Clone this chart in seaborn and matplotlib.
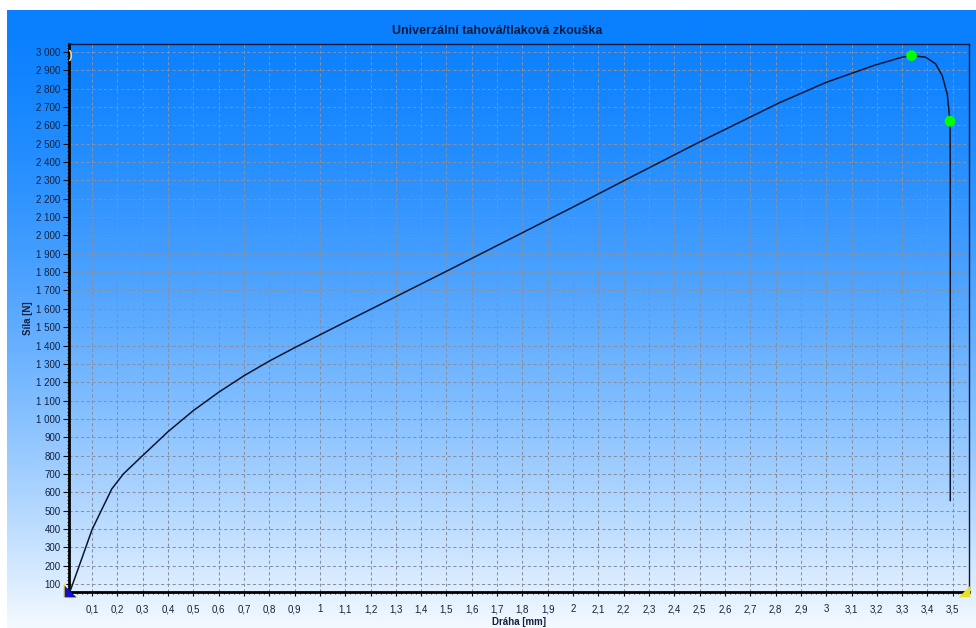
import numpy as np
import pandas as pd
import matplotlib
matplotlib.use("Agg")
import matplotlib.pyplot as plt
from matplotlib.ticker import FixedLocator, FuncFormatter, MultipleLocator
from matplotlib.colors import LinearSegmentedColormap
import seaborn as sns

# Tensile test record: travel [mm] vs. force [N]
draha_mm = [0.010, 0.019, 0.060, 0.100, 0.140, 0.178, 0.224, 0.300, 0.400,
            0.500, 0.600, 0.700, 0.800, 0.900, 1.000, 1.100, 1.200,
            1.500, 2.000, 2.200, 2.500, 2.814, 3.000, 3.195, 3.300, 3.337,
            3.393, 3.432, 3.458, 3.478, 3.489, 3.490, 3.490]
sila_n = [50, 82, 240, 396, 510, 618, 700, 800, 930,
          1045, 1145, 1235, 1315, 1388, 1458, 1528, 1597,
          1805, 2155, 2298, 2510, 2723, 2835, 2930, 2972, 2981,
          2972, 2936, 2872, 2772, 2623, 2400, 555]

# Highlighted points: maximum force and break
body_x = [3.337, 3.489]
body_y = [2981, 2623]

# Start / end cursors of the measurement
start_x = [0.012]
start_y = [62]
end_x = [3.545]
end_y = [62]
top_cursor_x = [0.014]
top_cursor_y = [2985]

x_ticks = [round(0.1 * i, 1) for i in range(1, 36)]
y_ticks = list(range(100, 3001, 100))

title = "Univerzální tahová/tlaková zkouška"
x_label = "Dráha [mm]"
y_label = "Síla [N]"

W, H = 976, 628
fig = plt.figure(figsize=(W / 100, H / 100), dpi=100)
fig.patch.set_facecolor("white")

# Vertical blue-to-white gradient behind the chart
bg = fig.add_axes([7 / W, 0, 1 - 7 / W, 1 - 10 / H])
bg.set_axis_off()
cmap = LinearSegmentedColormap.from_list(
    "bg", [(0.0, "#0a80ff"), (1.0, "#f4f9ff")])
t = np.linspace(0, 1, 512) ** 1.5
bg.imshow(t[:, None], aspect="auto", cmap=cmap, vmin=0, vmax=1,
          extent=[0, 1, 0, 1], origin="upper")
bg.set_xlim(0, 1)
bg.set_ylim(0, 1)

ax = fig.add_axes([69 / W, (H - 592) / H, (969 - 69) / W, (592 - 44) / H])
ax.set_facecolor("none")

df = pd.DataFrame({"x": draha_mm, "y": sila_n})
sns.lineplot(data=df, x="x", y="y", sort=False, estimator=None,
             color="#0c1630", linewidth=1.1, ax=ax, zorder=3)
sns.scatterplot(x=body_x, y=body_y, color="#00ff00", s=60,
                edgecolor="none", ax=ax, zorder=4)

# Cursor glyphs at the ends of the travel range
corner = [(-1, -1), (-1, 1), (1, -1), (-1, -1)]
sns.scatterplot(x=start_x, y=start_y, marker=corner, color="#1010d0",
                s=70, linewidth=0, ax=ax, zorder=5, clip_on=False)
sns.scatterplot(x=start_x, y=start_y, marker="$\\llcorner$", color="#f0e020",
                s=110, linewidth=0.3, ax=ax, zorder=4, clip_on=False)
sns.scatterplot(x=end_x, y=end_y, marker=[(-1, -1), (1, 1), (1, -1), (-1, -1)],
                color="#e8e020", s=70, linewidth=0, ax=ax, zorder=5,
                clip_on=False)
sns.scatterplot(x=top_cursor_x, y=top_cursor_y, marker="$)$", color="#f0e020",
                s=60, linewidth=0.3, ax=ax, zorder=5, clip_on=False)

ax.set_xlim(0.009, 3.564)
ax.set_ylim(56, 3044)

ax.xaxis.set_major_locator(FixedLocator(x_ticks))
ax.yaxis.set_major_locator(FixedLocator(y_ticks))
ax.xaxis.set_minor_locator(MultipleLocator(0.02))
ax.yaxis.set_minor_locator(MultipleLocator(20))


def fmt_x(v, pos):
    s = f"{v:.1f}"
    if s.endswith(".0"):
        s = s[:-2]
    return s.replace(".", ",")


def fmt_y(v, pos):
    return f"{int(round(v)):,}".replace(",", " ")


ax.xaxis.set_major_formatter(FuncFormatter(fmt_x))
ax.yaxis.set_major_formatter(FuncFormatter(fmt_y))

tick_color = "#14213d"
ax.tick_params(axis="both", which="major", labelsize=7, labelcolor=tick_color,
               color="#101010", width=0.8)
ax.tick_params(axis="y", which="major", length=4, pad=2)
ax.tick_params(axis="x", which="major", length=3, pad=6)
ax.tick_params(axis="both", which="minor", length=1.5, color="#101010", width=0.6)
for lab in ax.get_xticklabels() + ax.get_yticklabels():
    lab.set_fontfamily("Liberation Sans")

ax.grid(True, which="major", color="#8790a0", linestyle=(0, (3, 2.5)),
        linewidth=0.75)
ax.set_axisbelow(True)

for side in ("left", "bottom"):
    ax.spines[side].set_color("#000000")
    ax.spines[side].set_linewidth(2)
for side in ("top", "right"):
    ax.spines[side].set_color("#0b1a40")
    ax.spines[side].set_linewidth(1)

ax.set_xlabel(x_label, fontsize=7, fontweight="bold", color="#14213d",
              family="Liberation Sans", labelpad=1)
ax.set_ylabel(y_label, fontsize=7, fontweight="bold", color="#14213d",
              family="Liberation Sans", labelpad=8)
ax.xaxis.set_label_coords((519 - 69) / (969 - 69), -(617 - 592) / (592 - 44))
ax.yaxis.set_label_coords(-(69 - 33) / (969 - 69), (592 - 318) / (592 - 44))

fig.text(497 / W, 1 - 31 / H, title, ha="center", va="center",
         fontsize=9, fontweight="bold", color="#0d1b3e",
         family="Liberation Sans")

fig.savefig("out.png", dpi=100)
